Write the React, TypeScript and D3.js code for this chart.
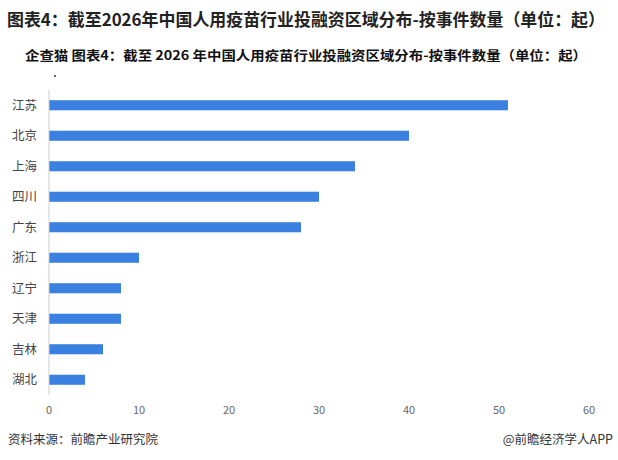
import React from "react";
import * as d3 from "d3";

const categories = ["江苏", "北京", "上海", "四川", "广东", "浙江", "辽宁", "天津", "吉林", "湖北"];
const values = [51, 40, 34, 30, 28, 10, 8, 8, 6, 4];
const xTicks = [0, 10, 20, 30, 40, 50, 60];

const titleText = "图表4：截至2026年中国人用疫苗行业投融资区域分布-按事件数量（单位：起）";
const subtitleText = "企查猫  图表4：截至 2026 年中国人用疫苗行业投融资区域分布-按事件数量（单位：起）";
const sourceText = "资料来源：前瞻产业研究院";
const brandText = "@前瞻经济学人APP";

const W = 618;
const H = 460;
const margin = { left: 49, right: 29, top: 90, bottom: 65 };

export default function App() {
  const x = d3.scaleLinear().domain([0, 60]).range([margin.left, W - margin.right]);
  const y = d3
    .scaleBand<string>()
    .domain(categories)
    .range([margin.top, H - margin.bottom])
    .paddingInner(0.67)
    .paddingOuter(0.335);
  const font = "'Noto Sans CJK SC', 'Noto Sans', sans-serif";
  return (
    <svg
      width={W}
      height={H}
      style={{ position: "absolute", left: 0, top: 0, background: "#fff" }}
      fontFamily={font}
    >
      <rect x={0} y={0} width={W} height={H} fill="#fff" />
      <text x={7} y={26} fontSize={17} fontWeight="bold" fill="#222" textLength={598} lengthAdjust="spacingAndGlyphs">
        {titleText}
      </text>
      <text x={25} y={60} fontSize={13} fontWeight="bold" fill="#111" textLength={562} lengthAdjust="spacingAndGlyphs">
        {subtitleText}
      </text>
      <circle cx={55} cy={76} r={1} fill="#333" />
      {categories.map((c, i) => (
        <g key={c}>
          <rect
            x={x(0)}
            y={y(c)!}
            width={x(values[i]) - x(0)}
            height={y.bandwidth()}
            fill="#3a80e0"
          />
          <text
            x={37}
            y={y(c)! + y.bandwidth() / 2}
            dy="0.35em"
            textAnchor="end"
            fontSize={12.5}
            fill="#444"
          >
            {c}
          </text>
        </g>
      ))}
      <line x1={x(0)} x2={x(0)} y1={margin.top} y2={H - margin.bottom} stroke="#ccc" strokeWidth={1} />
      {xTicks.map((t) => (
        <text key={t} x={x(t)} y={414} textAnchor="middle" fontSize={11} fill="#666">
          {t}
        </text>
      ))}
      <text x={8} y={444} fontSize={12.5} fill="#333">
        {sourceText}
      </text>
      <text x={613} y={444} textAnchor="end" fontSize={12.5} fill="#333">
        {brandText}
      </text>
    </svg>
  );
}
